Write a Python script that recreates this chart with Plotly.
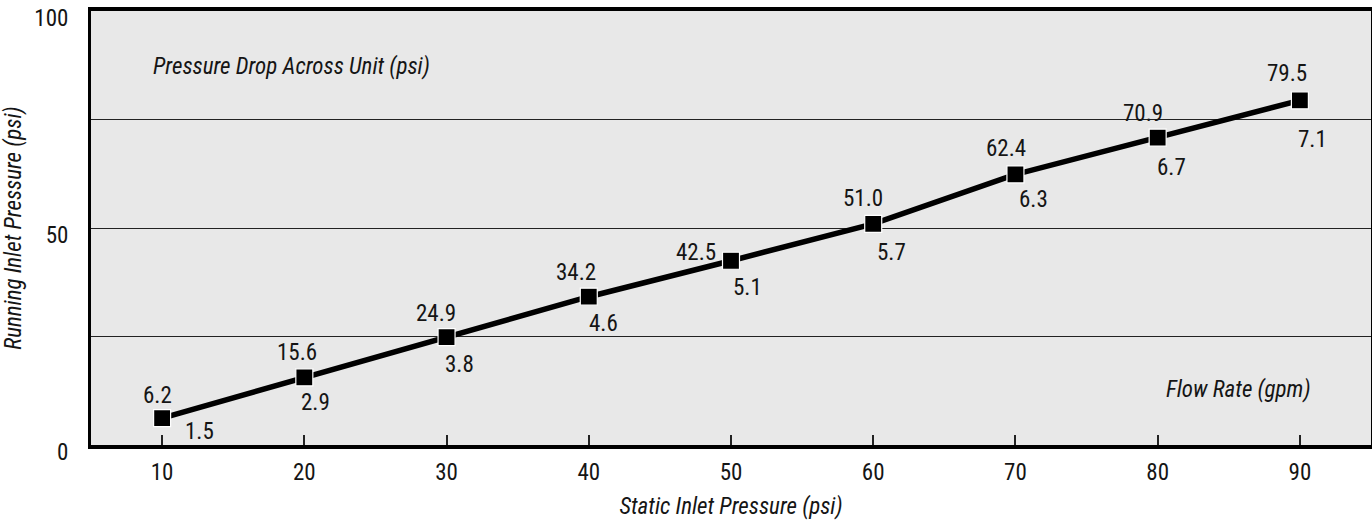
import plotly.graph_objects as go

# ---- data ----
static_pressure = [10, 20, 30, 40, 50, 60, 70, 80, 90]
running_pressure = [6.2, 15.6, 24.9, 34.2, 42.5, 51.0, 62.4, 70.9, 79.5]
pressure_drop = [1.5, 2.9, 3.8, 4.6, 5.1, 5.7, 6.3, 6.7, 7.1]
x_ticks = [10, 20, 30, 40, 50, 60, 70, 80, 90]
y_ticks = [0, 25, 50, 75, 100]
y_ticktext = ["0", "", "50", "", "100"]

FONT = "Roboto Condensed, Liberation Sans Narrow, Roboto, Arial, sans-serif"
TXT = "#151515"

# label pixel offsets (layout only)
up_dx = [-5, -7, -11, -13, -35, -10, -9, -15, -13]
up_dy = [-23, -25, -24, -24, -8, -25, -26, -24, -27]
lo_dx = [37, 11, 13, 15, 16, 18, 18, 14, 13]
lo_dy = [13, 25, 27, 27, 27, 29, 25, 30, 39]

fig = go.Figure()
fig.add_trace(go.Scatter(
    x=static_pressure, y=running_pressure, mode="lines+markers",
    line=dict(color="black", width=5.5),
    marker=dict(symbol="square", size=17, color="black",
                line=dict(color="white", width=1.2)),
    hoverinfo="x+y", showlegend=False,
))

annotations = []
for i, (xv, yv, dv) in enumerate(zip(static_pressure, running_pressure, pressure_drop)):
    annotations.append(dict(x=xv, y=yv, xref="x", yref="y", text=f"{yv:.1f}",
                            showarrow=False, xshift=up_dx[i], yshift=-up_dy[i],
                            font=dict(family=FONT, size=23, color=TXT)))
    annotations.append(dict(x=xv, y=yv, xref="x", yref="y", text=f"{dv:.1f}",
                            showarrow=False, xshift=lo_dx[i], yshift=-lo_dy[i],
                            font=dict(family=FONT, size=23, color=TXT)))

annotations.append(dict(x=9.2, y=87.3, xref="x", yref="y", xanchor="left",
                        text="<i>Pressure Drop Across Unit (psi)</i>", showarrow=False,
                        font=dict(family=FONT, size=23, color=TXT)))
annotations.append(dict(x=90.9, y=12.7, xref="x", yref="y", xanchor="right",
                        text="<i>Flow Rate (gpm)</i>", showarrow=False,
                        font=dict(family=FONT, size=23, color=TXT)))

fig.update_layout(
    width=1372, height=525,
    margin=dict(l=91, r=1, t=11, b=80, autoexpand=False),
    paper_bgcolor="white", plot_bgcolor="#e8e8e8",
    font=dict(family=FONT, size=23, color=TXT),
    annotations=annotations,
    xaxis=dict(
        range=[5, 95], tickvals=x_ticks, ticks="inside", ticklen=10,
        tickwidth=1.5, tickcolor="#222", showgrid=False, zeroline=False,
        showline=True, linecolor="black", linewidth=4, mirror=True,
        tickfont=dict(family=FONT, size=23, color=TXT),
        ticklabelstandoff=3, automargin=False,
        title=dict(text="<i>Static Inlet Pressure (psi)</i>", standoff=14,
                   font=dict(family=FONT, size=23, color=TXT)),
    ),
    yaxis=dict(
        range=[0, 100.1], tickvals=y_ticks, ticktext=y_ticktext, ticks="",
        showgrid=True, gridcolor="#222", gridwidth=1.3, zeroline=False,
        showline=True, linecolor="black", linewidth=3, mirror=True,
        tickfont=dict(family=FONT, size=23, color=TXT),
        ticklabelstandoff=15, ticklabelshift=7, automargin=False,
        ticklabeloverflow="allow",
        title=dict(text="<i>Running Inlet Pressure (psi)</i>", standoff=9,
                   font=dict(family=FONT, size=23, color=TXT)),
    ),
)

fig.write_html(
    "out.html",
    config={"displayModeBar": False},
    post_script="document.body.style.margin='0';document.body.style.overflow='hidden';",
)
